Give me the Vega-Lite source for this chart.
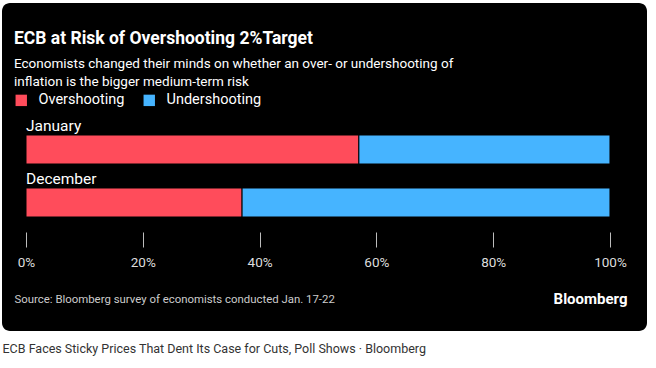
{
  "$schema": "https://vega.github.io/schema/vega-lite/v6.json",
  "autosize": "none",
  "padding": {"left": 2, "top": 3, "right": 9, "bottom": 37},
  "background": "#ffffff",
  "width": 645,
  "height": 328,
  "config": {
    "view": {"fill": "#000000", "stroke": null, "cornerRadius": 8}
  },
  "title": {
    "text": "ECB at Risk of Overshooting 2%Target",
    "subtitle": [
      "Economists changed their minds on whether an over- or undershooting of",
      "inflation is the bigger medium-term risk"
    ],
    "orient": "top",
    "anchor": "start",
    "frame": "group",
    "offset": -85,
    "dx": 12,
    "font": "Roboto",
    "fontSize": 17.5,
    "fontWeight": "bold",
    "color": "#ffffff",
    "subtitleFont": "Roboto",
    "subtitleFontSize": 13.5,
    "subtitleColor": "#ffffff",
    "subtitlePadding": 9,
    "subtitleLineHeight": 18
  },
  "data": {
    "values": [
      {"period": "January", "risk": "Overshooting", "share": 57},
      {"period": "January", "risk": "Undershooting", "share": 43},
      {"period": "December", "risk": "Overshooting", "share": 37},
      {"period": "December", "risk": "Undershooting", "share": 63}
    ]
  },
  "resolve": {"axis": {"y": "independent"}},
  "layer": [
    {
      "mark": {"type": "bar", "stroke": "#000000", "strokeWidth": 1},
      "encoding": {
        "y": {
          "field": "period",
          "type": "nominal",
          "sort": ["January", "December"],
          "scale": {"range": [132, 214], "paddingInner": 0.4528, "paddingOuter": 0},
          "axis": {
            "orient": "left",
            "title": "ECB Faces Sticky Prices That Dent Its Case for Cuts, Poll Shows  ·  Bloomberg",
            "labels": false,
            "ticks": false,
            "domain": false,
            "grid": false,
            "titleAngle": 0,
            "titleAlign": "left",
            "titleBaseline": "middle",
            "titleX": 0,
            "titleY": 345,
            "titleFont": "Roboto",
            "titleFontSize": 12.5,
            "titleFontWeight": "normal",
            "titleColor": "#333333"
          }
        },
        "x": {
          "field": "share",
          "type": "quantitative",
          "stack": "zero",
          "scale": {"domain": [-4.11, 106.34], "nice": false, "zero": false},
          "axis": {
            "orient": "bottom",
            "offset": -99,
            "values": [0, 20, 40, 60, 80, 100],
            "labelExpr": "datum.value + '%'",
            "domain": false,
            "grid": false,
            "tickSize": 15,
            "tickColor": "#bdbdbd",
            "tickWidth": 1,
            "labelColor": "#dddddd",
            "labelFont": "Roboto",
            "labelFontSize": 13.5,
            "labelPadding": 8,
            "labelFlush": false,
            "title": "Source: Bloomberg survey of economists conducted Jan. 17-22",
            "titleX": 12,
            "titleY": 67,
            "titleAlign": "left",
            "titleBaseline": "middle",
            "titleColor": "#cccccc",
            "titleFont": "Roboto",
            "titleFontSize": 11.4,
            "titleFontWeight": "normal"
          }
        },
        "color": {
          "field": "risk",
          "type": "nominal",
          "scale": {"domain": ["Overshooting", "Undershooting"], "range": ["#ff4c5b", "#46b4ff"]},
          "legend": {
            "orient": "none",
            "legendX": 12,
            "legendY": 90,
            "direction": "horizontal",
            "title": null,
            "symbolType": "square",
            "symbolSize": 130,
            "symbolStrokeWidth": 0,
            "labelColor": "#ffffff",
            "labelFont": "Roboto",
            "labelFontSize": 14.5,
            "labelOffset": 10,
            "columnPadding": 17
          }
        },
        "order": {"field": "risk", "sort": "ascending"}
      }
    },
    {
      "transform": [{"filter": "datum.risk === 'Overshooting'"}],
      "mark": {"type": "text", "align": "left", "baseline": "alphabetic", "dy": -4, "color": "#ffffff", "font": "Roboto", "fontSize": 15.5},
      "encoding": {
        "y": {
          "field": "period",
          "type": "nominal",
          "sort": ["January", "December"],
          "bandPosition": 0,
          "axis": {
            "orient": "right",
            "title": "Bloomberg",
            "labels": false,
            "ticks": false,
            "domain": false,
            "grid": false,
            "titleAngle": 0,
            "titleAlign": "right",
            "titleBaseline": "middle",
            "titleX": -20,
            "titleY": 295,
            "titleFont": "Roboto",
            "titleFontSize": 15,
            "titleFontWeight": "bold",
            "titleColor": "#ffffff"
          }
        },
        "x": {"datum": 0},
        "text": {"field": "period"}
      }
    }
  ]
}
